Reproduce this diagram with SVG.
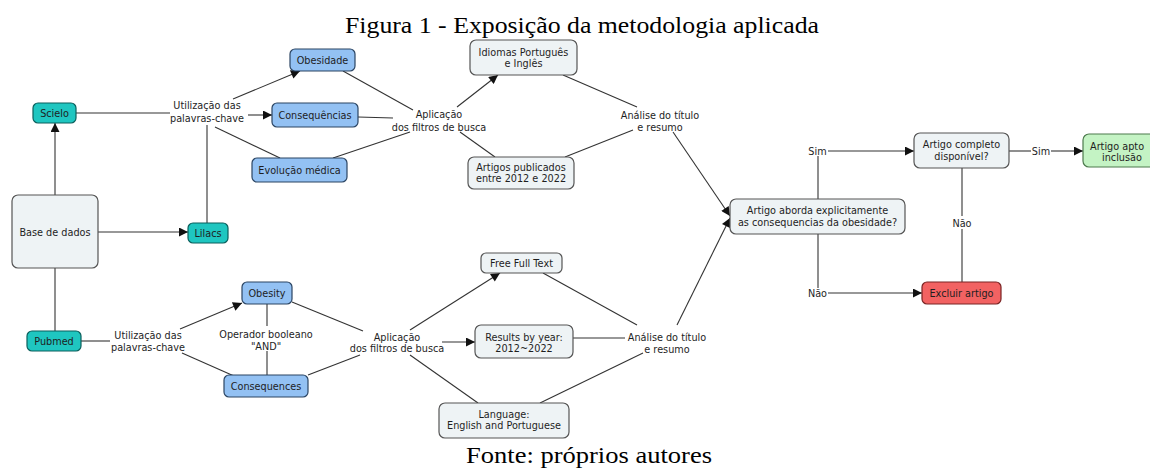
<svg xmlns="http://www.w3.org/2000/svg" width="1150" height="468" viewBox="0 0 1150 468">
<defs>
<marker id="arr" viewBox="0 0 10 10" refX="10" refY="5" markerUnits="userSpaceOnUse" markerWidth="10" markerHeight="9" orient="auto">
<path d="M0,0 L10,5 L0,10 z" fill="#111"/>
</marker>
<style>
.box{stroke-width:1.2}
.teal{fill:#1fc6c0;stroke:#0b5f5c}
.blue{fill:#93c1f3;stroke:#2b4563}
.light{fill:#eef3f5;stroke:#555}
.red{fill:#f26262;stroke:#7a2424}
.green{fill:#c4f3c4;stroke:#4d7a4d}
.t{font-family:"DejaVu Sans","Liberation Sans",sans-serif;font-size:9.7px;fill:#1e1e1e;text-anchor:middle}
.tl{font-family:"DejaVu Sans","Liberation Sans",sans-serif;font-size:9.7px;fill:#1e1e1e}
.cap{font-family:"Liberation Serif","Times New Roman",serif;font-size:24px;fill:#000}
.c line{stroke:#333;stroke-width:1.1}
.c .a{marker-end:url(#arr)}
</style>
</defs>
<rect width="1150" height="468" fill="#fff"/>
<text class="cap" x="345" y="33" textLength="474" lengthAdjust="spacingAndGlyphs">Figura 1 - Exposição da metodologia aplicada</text>
<text class="cap" x="466" y="463" textLength="246" lengthAdjust="spacingAndGlyphs">Fonte: próprios autores</text>

<g class="c" id="connectors">
<line class="a" x1="55" y1="195" x2="55" y2="123"/>
<line class="a" x1="98" y1="232" x2="188" y2="232"/>
<line x1="55" y1="268" x2="55" y2="331"/>
<line x1="76" y1="113" x2="170" y2="113"/>
<line x1="207" y1="223" x2="207" y2="125"/>
<line class="a" x1="233" y1="99" x2="300" y2="71"/>
<line class="a" x1="248" y1="115" x2="272" y2="115"/>
<line x1="215" y1="127" x2="280" y2="158"/>
<line x1="343" y1="71" x2="413" y2="110"/>
<line x1="358" y1="117" x2="393" y2="118"/>
<line x1="333" y1="158" x2="410" y2="132"/>
<line class="a" x1="457" y1="107" x2="498" y2="75"/>
<line x1="460" y1="132" x2="495" y2="157"/>
<line x1="563" y1="75" x2="637" y2="107"/>
<line x1="565" y1="157" x2="633" y2="130"/>
<line class="a" x1="673" y1="132" x2="730" y2="216"/>
<line x1="81" y1="341" x2="110" y2="341"/>
<line class="a" x1="180" y1="329" x2="242" y2="303"/>
<line x1="182" y1="353" x2="234" y2="376"/>
<line x1="267" y1="304" x2="267" y2="326"/>
<line x1="267" y1="351" x2="267" y2="375"/>
<line x1="292" y1="302" x2="363" y2="331"/>
<line x1="308" y1="375" x2="360" y2="355"/>
<line class="a" x1="410" y1="330" x2="500" y2="273"/>
<line class="a" x1="442" y1="342" x2="475" y2="342"/>
<line x1="410" y1="355" x2="478" y2="403"/>
<line x1="543" y1="273" x2="637" y2="325"/>
<line x1="573" y1="338" x2="625" y2="338"/>
<line x1="540" y1="403" x2="643" y2="353"/>
<line class="a" x1="677" y1="325" x2="730" y2="218"/>
<line x1="818" y1="199" x2="818" y2="156"/>
<line class="a" x1="828" y1="151" x2="914" y2="151"/>
<line x1="1009" y1="151" x2="1031" y2="151"/>
<line class="a" x1="1051" y1="151" x2="1083" y2="151"/>
<line x1="962" y1="168" x2="962" y2="216"/>
<line x1="962" y1="229" x2="962" y2="282"/>
<line x1="818" y1="234" x2="818" y2="288"/>
<line class="a" x1="828" y1="293" x2="922" y2="293"/>
</g>

<g id="labels">
<text class="t" x="207" y="109">Utilização das</text>
<text class="t" x="207" y="122">palavras-chave</text>
<text class="t" x="439" y="117.5">Aplicação</text>
<text class="t" x="439" y="130.5">dos filtros de busca</text>
<text class="t" x="660" y="118.5">Análise do título</text>
<text class="t" x="660" y="130.5">e resumo</text>
<text class="t" x="148" y="338.5">Utilização das</text>
<text class="t" x="148" y="351">palavras-chave</text>
<text class="t" x="266" y="337.5">Operador booleano</text>
<text class="t" x="266" y="349.5">"AND"</text>
<text class="t" x="397" y="340.5">Aplicação</text>
<text class="t" x="397" y="351.5">dos filtros de busca</text>
<text class="t" x="667" y="340.5">Análise do título</text>
<text class="t" x="667" y="352.5">e resumo</text>
<text class="t" x="817.5" y="154.5">Sim</text>
<text class="t" x="962" y="226.5">Não</text>
<text class="t" x="817.5" y="296.5">Não</text>
<text class="t" x="1041" y="155">Sim</text>
</g>

<g id="n-scielo"><rect class="box teal" x="33" y="103" width="43" height="20" rx="5"/><text class="t" x="54.5" y="116.5">Scielo</text></g>
<g id="n-base"><rect class="box light" x="12" y="195" width="86" height="73" rx="6"/><text class="t" x="55" y="235.5">Base de dados</text></g>
<g id="n-lilacs"><rect class="box teal" x="188" y="223" width="40" height="20" rx="5"/><text class="t" x="208" y="236.5">Lilacs</text></g>
<g id="n-pubmed"><rect class="box teal" x="27" y="331" width="54" height="20" rx="5"/><text class="t" x="54" y="344.5">Pubmed</text></g>
<g id="n-obesidade"><rect class="box blue" x="290" y="49" width="65" height="22" rx="5"/><text class="t" x="322.5" y="63.5">Obesidade</text></g>
<g id="n-consequencias"><rect class="box blue" x="272" y="103" width="86" height="24" rx="5"/><text class="t" x="315" y="118.5">Consequências</text></g>
<g id="n-evolucao"><rect class="box blue" x="252" y="158" width="95" height="24" rx="5"/><text class="t" x="299.5" y="173.5">Evolução médica</text></g>
<g id="n-idiomas"><rect class="box light" x="470" y="40" width="107" height="35" rx="6"/><text class="t" x="523.5" y="55.5">Idiomas Português</text><text class="t" x="523.5" y="67">e Inglês</text></g>
<g id="n-artigos"><rect class="box light" x="468" y="157" width="106" height="32" rx="6"/><text class="t" x="521" y="170.5">Artigos publicados</text><text class="t" x="521" y="182">entre 2012 e 2022</text></g>
<g id="n-obesity"><rect class="box blue" x="242" y="282" width="50" height="22" rx="5"/><text class="t" x="267" y="296.5">Obesity</text></g>
<g id="n-consequences"><rect class="box blue" x="224" y="375" width="84" height="22" rx="5"/><text class="t" x="266" y="389.5">Consequences</text></g>
<g id="n-freefull"><rect class="box light" x="481" y="253" width="81" height="20" rx="5"/><text class="t" x="521.5" y="266.5">Free Full Text</text></g>
<g id="n-results"><rect class="box light" x="475" y="325" width="98" height="33" rx="6"/><text class="t" x="524" y="340.5">Results by year:</text><text class="t" x="524" y="352">2012~2022</text></g>
<g id="n-language"><rect class="box light" x="439" y="403" width="130" height="35" rx="6"/><text class="t" x="504" y="417.5">Language:</text><text class="t" x="504" y="429">English and Portuguese</text></g>
<g id="n-decision"><rect class="box light" x="730" y="199" width="175" height="35" rx="6"/><text class="t" x="817.5" y="213.5">Artigo aborda explicitamente</text><text class="t" x="817.5" y="225.5">as consequencias da obesidade?</text></g>
<g id="n-completo"><rect class="box light" x="914" y="133" width="95" height="35" rx="6"/><text class="t" x="961.5" y="147.5">Artigo completo</text><text class="t" x="961.5" y="159.5">disponível?</text></g>
<g id="n-excluir"><rect class="box red" x="922" y="282" width="79" height="22" rx="5"/><text class="t" x="961.5" y="296.5">Excluir artigo</text></g>
<g id="n-apto"><rect class="box green" x="1083" y="134" width="80" height="33" rx="6"/><text class="tl" x="1090" y="149.5">Artigo apto</text><text class="tl" x="1102" y="160.5">inclusão</text></g>
</svg>
